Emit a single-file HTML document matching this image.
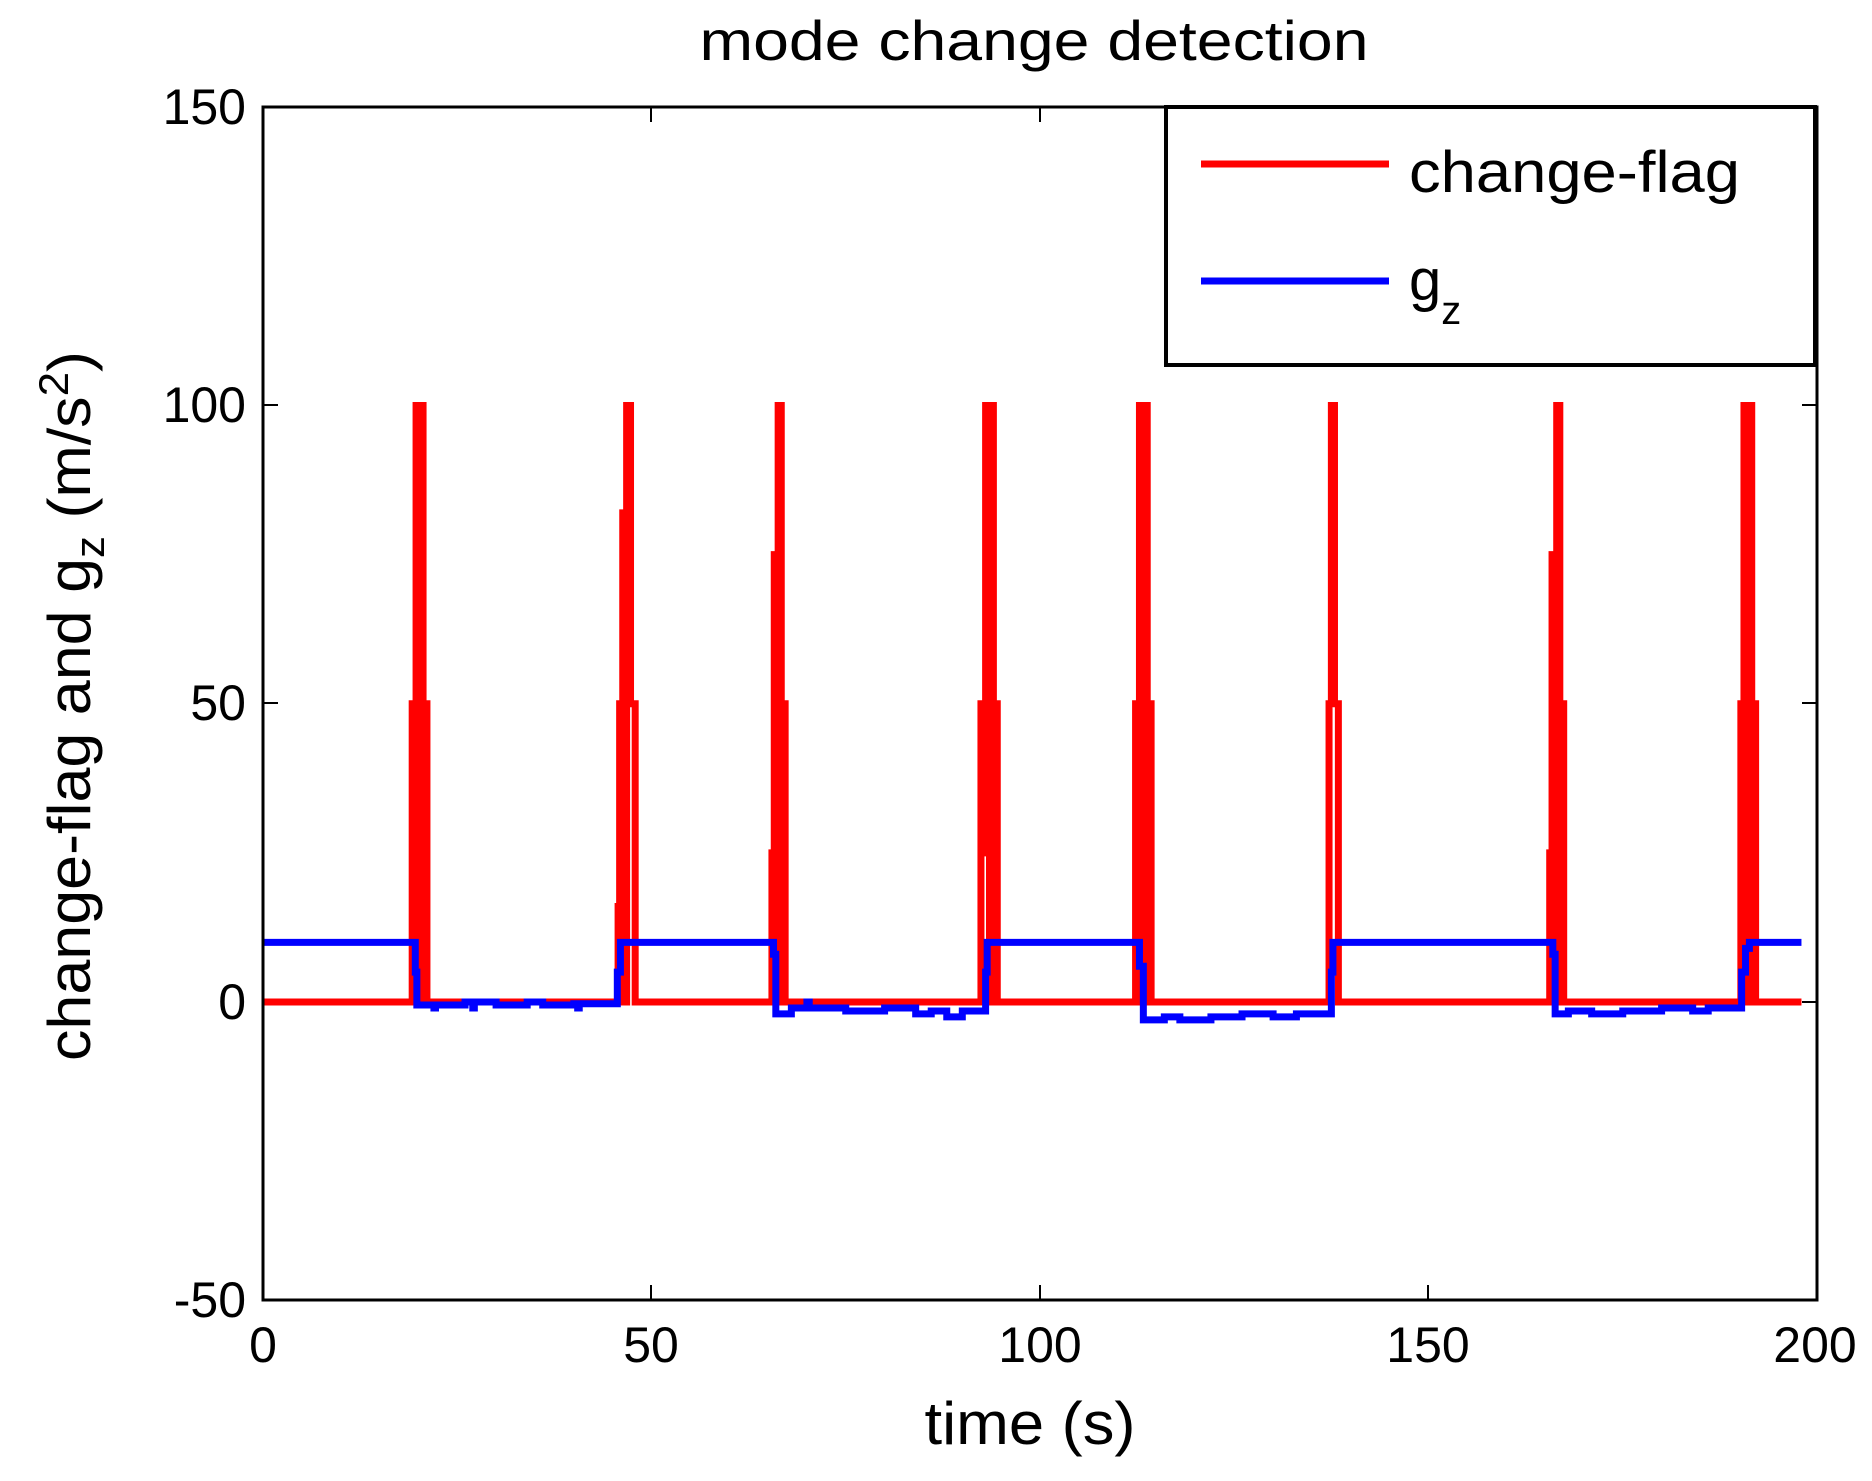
<!DOCTYPE html>
<html><head><style>
html,body{margin:0;padding:0;background:#fff;}
svg{display:block;font-family:"Liberation Sans",sans-serif;}
</style></head><body>
<svg width="1872" height="1481" viewBox="0 0 1872 1481" xmlns="http://www.w3.org/2000/svg">
<rect width="1872" height="1481" fill="#fff"/>
<text x="1034" y="60" font-size="56" text-anchor="middle" textLength="669" lengthAdjust="spacingAndGlyphs">mode change detection</text>
<g stroke="#000" stroke-width="2">
<line x1="263" y1="405" x2="278" y2="405"/><line x1="263" y1="703" x2="278" y2="703"/><line x1="263" y1="1002" x2="278" y2="1002"/>
<line x1="1817" y1="405" x2="1802" y2="405"/><line x1="1817" y1="703" x2="1802" y2="703"/><line x1="1817" y1="1002" x2="1802" y2="1002"/>
<line x1="651" y1="1300" x2="651" y2="1285"/><line x1="1040" y1="1300" x2="1040" y2="1285"/><line x1="1428" y1="1300" x2="1428" y2="1285"/>
<line x1="651" y1="107" x2="651" y2="122"/><line x1="1040" y1="107" x2="1040" y2="122"/><line x1="1428" y1="107" x2="1428" y2="122"/>
</g>
<g transform="translate(263,1002) scale(7.77,-5.965)" fill="none" stroke-linejoin="miter">
<path vector-effect="non-scaling-stroke" stroke="#f00" stroke-width="7" d="M0 0 H19.2 V50 H19.5 V0 H19.7 V100 H20.1 V0 H20.3 V100 H20.6 V50 H21.1 V0
H45.7 V16 H45.9 V50 H46.3 V82 H46.6 V0 H46.8 V100 H47.3 V50 H47.9 V0
H65.5 V25 H65.8 V75 H66.1 V0 H66.3 V100 H66.7 V50 H67.2 V0
H92.4 V50 H92.8 V25 H93.0 V100 H93.5 V0 H93.7 V100 H94.0 V50 H94.5 V0
H112.3 V50 H112.8 V100 H113.2 V0 H113.4 V100 H113.8 V50 H114.3 V0
H137.2 V50 H137.5 V100 H137.9 V50 H138.4 V0
H165.6 V25 H165.9 V75 H166.3 V0 H166.5 V100 H166.9 V50 H167.4 V0
H190.2 V50 H190.6 V100 H191 V0 H191.2 V100 H191.6 V50 H192.1 V0 H198"/>
<path vector-effect="non-scaling-stroke" stroke="#00f" stroke-width="7" d="M0 10 H19.6 V5 H19.8 V-0.5 H22 V-1 H22.2 V-0.5 H26 V0 H27 V-1 H27.2 V0 H30 V-0.5 H34 V0 H36 V-0.5 H40 V-0.3 H40.5 V-1 H40.7 V-0.3 H45.6 V5 H46 V10 H65.7 V8 H66 V-2 H68 V-1 H70 V0 H70.3 V-1 H75 V-1.5 H80 V-1 H84 V-2 H86 V-1.5 H88 V-2.5 H90 V-1.5 H93 V5 H93.2 V10 H112.8 V6 H113.3 V-3 H116 V-2.5 H118 V-3 H122 V-2.5 H126 V-2 H130 V-2.5 H133 V-2 H137.5 V5 H137.7 V10 H166 V8 H166.3 V-2 H168 V-1.5 H171 V-2 H175 V-1.5 H180 V-1 H184 V-1.5 H186 V-1 H190.3 V5 H190.8 V9 H191.3 V10 H198"/>
</g>
<rect x="263" y="107" width="1554" height="1193" fill="none" stroke="#000" stroke-width="3"/>
<rect x="1166" y="107" width="649" height="258" fill="#fff" stroke="#000" stroke-width="4"/>
<line x1="1201" y1="164" x2="1389" y2="164" stroke="#f00" stroke-width="7"/>
<line x1="1201" y1="281" x2="1389" y2="281" stroke="#00f" stroke-width="7"/>
<text x="1409" y="192" font-size="58" textLength="331" lengthAdjust="spacingAndGlyphs">change-flag</text>
<text x="1409" y="300" font-size="58">g<tspan font-size="40" dy="24">z</tspan></text>
<g font-size="50" text-anchor="end">
<text x="246" y="124">150</text><text x="246" y="422">100</text><text x="246" y="720">50</text><text x="246" y="1019">0</text><text x="246" y="1317">-50</text>
</g>
<g font-size="50" text-anchor="middle">
<text x="263" y="1362">0</text><text x="651" y="1362">50</text><text x="1040" y="1362">100</text><text x="1428" y="1362">150</text><text x="1815" y="1362">200</text>
</g>
<text x="1030" y="1444" font-size="60" text-anchor="middle" textLength="211" lengthAdjust="spacingAndGlyphs">time (s)</text>
<text transform="translate(90,706) rotate(-90)" font-size="60" text-anchor="middle" textLength="710" lengthAdjust="spacingAndGlyphs">change-flag and g<tspan font-size="42" dy="14">z</tspan><tspan dy="-14"> (m/s</tspan><tspan font-size="42" dy="-22">2</tspan><tspan dy="22">)</tspan></text>
</svg>
</body></html>
